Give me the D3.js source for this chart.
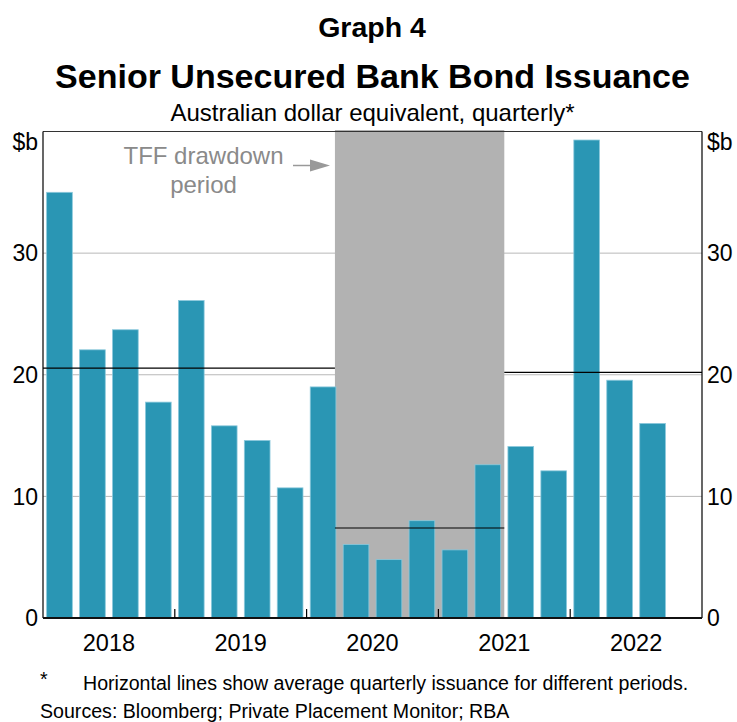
<!DOCTYPE html>
<html><head><meta charset="utf-8">
<script src="https://cdn.jsdelivr.net/npm/d3@7"></script>
<style>
html,body{margin:0;padding:0;background:#fff;}
svg{display:block;font-family:"Liberation Sans",Arial,sans-serif;}
</style></head>
<body>
<svg id="chart" width="737" height="722"></svg>
<script>
// ---- data ----
const quarters = ["2018Q1","2018Q2","2018Q3","2018Q4","2019Q1","2019Q2","2019Q3","2019Q4",
  "2020Q1","2020Q2","2020Q3","2020Q4","2021Q1","2021Q2","2021Q3","2021Q4",
  "2022Q1","2022Q2","2022Q3","2022Q4"];
const issuance = [35.0,22.05,23.7,17.75,26.1,15.8,14.6,10.7,19.0,6.05,4.8,8.0,5.6,12.6,14.1,12.1,39.3,19.55,16.0,null];
const years = [2018,2019,2020,2021,2022];
const yTicks = [0,10,20,30];
// average lines: start/end in fractional years, value
const avgStart = [2018, 2020.215, 2021.5];
const avgEnd   = [2020.215, 2021.5, 2023];
const avgValue = [20.55, 7.4, 20.2];
// TFF drawdown shading period (fractional years)
const tffPeriod = [2020.215, 2021.5];

const svg = d3.select("#chart");
const L = 43, R = 702, T = 131.5, B = 618;
const x = d3.scaleLinear().domain([2018, 2023]).range([L, R]);
const y = d3.scaleLinear().domain([0, 40]).range([B, T]);
const qPos = q => +q.slice(0,4) + (+q.slice(5) - 1) / 4;
const qW = x(2018.25) - x(2018);
const barW = qW * 0.78;

// titles
svg.append("text").attr("x", 372).attr("y", 37).attr("text-anchor","middle")
  .attr("font-size", 28.5).attr("font-weight","bold").text("Graph 4");
svg.append("text").attr("x", 372.5).attr("y", 88).attr("text-anchor","middle")
  .attr("font-size", 34).attr("font-weight","bold").text("Senior Unsecured Bank Bond Issuance");
svg.append("text").attr("x", 372.5).attr("y", 121).attr("text-anchor","middle")
  .attr("font-size", 24).text("Australian dollar equivalent, quarterly*");

// grid
svg.append("g").selectAll("line").data(yTicks.filter(d => d > 0)).join("line")
  .attr("x1", L).attr("x2", R).attr("y1", d => y(d)).attr("y2", d => y(d))
  .attr("stroke", "#b8b8b8").attr("stroke-width", 1);

// shading
svg.append("rect").attr("x", x(tffPeriod[0])).attr("width", x(tffPeriod[1]) - x(tffPeriod[0]))
  .attr("y", T - 1.5).attr("height", B - T + 1.5).attr("fill", "#b2b2b2");

// bars
svg.append("g").selectAll("rect").data(quarters.map((q,i) => ({q, v: issuance[i]})).filter(d => d.v != null))
  .join("rect")
  .attr("x", d => x(qPos(d.q)) + (qW - barW) / 2)
  .attr("width", barW)
  .attr("y", d => y(d.v)).attr("height", d => B - y(d.v))
  .attr("fill", "#2a96b4").attr("stroke", "#8cc9dc").attr("stroke-width", 0.8);

// average lines
svg.append("g").selectAll("line").data(avgValue.map((v,i) => ({v, s: avgStart[i], e: avgEnd[i]}))).join("line")
  .attr("x1", d => x(d.s)).attr("x2", d => x(d.e))
  .attr("y1", d => y(d.v)).attr("y2", d => y(d.v))
  .attr("stroke", "#000").attr("stroke-width", 1.2);

// frame
svg.append("line").attr("x1", L).attr("x2", R).attr("y1", T).attr("y2", T).attr("stroke", "#333").attr("stroke-width", 1.2);
svg.append("line").attr("x1", L).attr("x2", L).attr("y1", T).attr("y2", B).attr("stroke", "#000").attr("stroke-width", 1.2);
svg.append("line").attr("x1", R).attr("x2", R).attr("y1", T).attr("y2", B).attr("stroke", "#000").attr("stroke-width", 1.2);
svg.append("line").attr("x1", L).attr("x2", R).attr("y1", B).attr("y2", B).attr("stroke", "#111").attr("stroke-width", 2);

// x ticks (year boundaries, pointing up)
svg.append("g").selectAll("line").data(years.slice(1)).join("line")
  .attr("x1", d => x(d)).attr("x2", d => x(d)).attr("y1", B).attr("y2", B - 9)
  .attr("stroke", "#000").attr("stroke-width", 1.2);
// x labels
svg.append("g").selectAll("text").data(years).join("text")
  .attr("x", d => x(d + 0.5)).attr("y", 651).attr("text-anchor","middle")
  .attr("font-size", 23.5).text(d => d);

// y labels
const yl = svg.append("g").attr("font-size", 23);
yl.selectAll("text.l").data(yTicks).join("text").attr("class","l")
  .attr("x", 38).attr("y", d => y(d)).attr("dy","0.36em").attr("text-anchor","end").text(d => d);
yl.selectAll("text.r").data(yTicks).join("text").attr("class","r")
  .attr("x", 707).attr("y", d => y(d)).attr("dy","0.36em").attr("text-anchor","start").text(d => d);
yl.append("text").attr("x", 38).attr("y", 150).attr("text-anchor","end").text("$b");
yl.append("text").attr("x", 707).attr("y", 150).attr("text-anchor","start").text("$b");

// annotation
const ann = svg.append("g").attr("fill", "#8a8a8a").attr("font-size", 24).attr("text-anchor","middle");
ann.append("text").attr("x", 203.5).attr("y", 164).text("TFF drawdown");
ann.append("text").attr("x", 203.5).attr("y", 193).text("period");
svg.append("line").attr("x1", 293).attr("x2", 312).attr("y1", 165.5).attr("y2", 165.5)
  .attr("stroke", "#999").attr("stroke-width", 1.5);
svg.append("path").attr("d", "M310,159.5 L330,165.5 L310,171.5 Z").attr("fill", "#999");

// footnotes
const fn = svg.append("g").attr("font-size", 19.6);
fn.append("text").attr("x", 40).attr("y", 686).text("*");
fn.append("text").attr("x", 83).attr("y", 690).text("Horizontal lines show average quarterly issuance for different periods.");
fn.append("text").attr("x", 40).attr("y", 717.5).text("Sources: Bloomberg; Private Placement Monitor; RBA");
</script>
</body></html>
